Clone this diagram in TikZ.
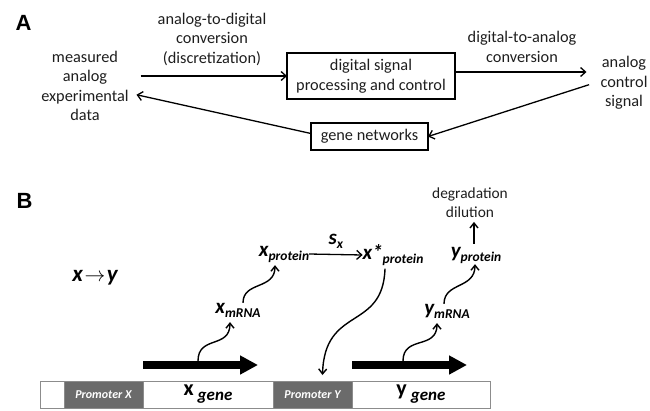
\documentclass[tikz,border=0pt]{standalone}
\usepackage{fontspec}
\setmainfont{Carlito}
\newfontfamily\panelfont{Liberation Sans}
\usepackage{tikz}
\usetikzlibrary{arrows.meta}
\usetikzlibrary{positioning}
\definecolor{promgray}{HTML}{6B6B6B}
\definecolor{edgegray}{HTML}{8C8C8C}
\definecolor{inkgray}{HTML}{1E1E1E}
% species name with subscript
\newcommand{\mol}[2]{{\fontsize{21}{21}\selectfont\bfseries\itshape #1}\raisebox{-4pt}{\fontsize{13.5}{13.5}\selectfont\bfseries\itshape #2}}
\newcommand{\genelab}[1]{{\fontsize{22}{22}\selectfont\bfseries #1}\hspace{4pt}\raisebox{-5pt}{\fontsize{17}{17}\selectfont\bfseries\itshape gene}}
\tikzset{
% Define standard arrow tip
>={Straight Barb[length=5pt, width=9pt]},
panel/.style={font=\panelfont\bfseries\fontsize{22}{22}\selectfont},
lbl/.style={align=center, text=inkgray, font=\fontsize{16.3}{19.5}\selectfont},
smalllbl/.style={align=center, text=inkgray, font=\fontsize{15.4}{19}\selectfont},
blockbox/.style={draw=black, line width=1.2pt, align=center, text=inkgray, font=\fontsize{16.3}{20}\selectfont},
flow/.style={-{Straight Barb[length=5pt, width=9pt]}, line width=1.3pt},
squig/.style={-{Straight Barb[length=5pt, width=8pt]}, line width=1.4pt},
seg/.style={draw=edgegray, line width=0.8pt, minimum height=27pt, anchor=west},
genseg/.style={seg, fill=white},
promseg/.style={seg, fill=promgray, text=white, font=\fontsize{12}{12}\selectfont\bfseries\itshape},
txarrow/.style={line width=8pt, -{Triangle[length=18pt, width=18pt]}}
}
\begin{document}
\begin{tikzpicture}[x=1pt, y=-1pt, inner sep=0, outer sep=0]
  \useasboundingbox (0,0) rectangle (650,410);

  % panel A
  \node[panel] (labA) at (23.5,22.5) {A};
  \node[lbl] (meas) at (85,86) {measured\\analog\\experimental\\data};
  \node[lbl] (adc) at (212,39) {analog-to-digital\\conversion\\(discretization)};
  \node[blockbox, minimum width=168pt, minimum height=46pt] (dsp) at (371,76) {digital signal\\processing and control};
  \node[lbl] (dac) at (522,47) {digital-to-analog\\conversion};
  \node[lbl] (acs) at (624,83) {analog\\control\\signal};
  \node[blockbox, minimum width=117pt, minimum height=27pt] (gn) at (369.5,136.5) {gene networks};

  \draw[flow, shorten <=12pt] (meas.east |- dsp.west) -- (dsp.west);
  \draw[flow, shorten >=14pt] ([yshift=4pt]dsp.east) -- ([yshift=4pt]dsp.east -| acs.west);
  \draw[flow, shorten <=12pt] ([yshift=2pt]acs.west) -- (gn.east);
  \draw[flow, shorten >=8pt] ([yshift=3pt]gn.west) -- ([yshift=-7pt]meas.east);

  % panel B
  \node[panel] (labB) at (24.5,200.5) {B};
  \node (xy) at (95,278) {{\fontsize{23}{23}\selectfont\bfseries\itshape x}\,{\fontsize{20}{20}\selectfont$\rightarrow$}\,{\fontsize{23}{23}\selectfont\bfseries\itshape y}};

  % DNA bar
  \node[genseg, minimum width=24pt] (lead) at (40,394.5) {};
  \node[promseg, minimum width=79pt, right=0pt of lead] (promX) {Promoter X};
  \node[genseg, minimum width=130pt, right=0pt of promX] (xgene) {\genelab{x}};
  \node[promseg, minimum width=79pt, right=0pt of xgene] (promY) {Promoter Y};
  \node[genseg, minimum width=138pt, right=0pt of promY] (ygene) {\genelab{y}};

  % transcription arrows
  \draw[txarrow] ([yshift=16pt]xgene.north west) -- ([xshift=115pt, yshift=16pt]xgene.north west);
  \draw[txarrow] ([yshift=16pt]ygene.north west) -- ([xshift=115pt, yshift=16pt]ygene.north west);
  \coordinate (xtss) at ([xshift=55pt, yshift=20pt]xgene.north west);
  \coordinate (ytss) at ([xshift=51pt, yshift=20pt]ygene.north west);

  % species
  \node (xm) at (238,310) {\mol{x}{mRNA}};
  \node (xp) at (284,254) {\mol{x}{protein}};
  \node (xs) at (393,255) {\mol{x*}{protein}};
  \node (ym) at (447,311) {\mol{y}{mRNA}};
  \node (yp) at (476,255) {\mol{y}{protein}};
  \node[smalllbl] (deg) at (470,203) {degradation\\dilution};

  \draw[squig] (xtss) .. controls +(0,-26) and +(0,27) .. ([xshift=-8pt, yshift=-5pt]xm.south);
  \draw[squig] ([xshift=5pt]xm.north) .. controls +(0,-22) and +(0,25) .. ([xshift=-9pt, yshift=-3pt]xp.south);
  \draw[flow] (xp.east) -- (xs.west) node[midway, above=6pt] {\mol{s}{x}};
  \draw[squig] ([xshift=-8pt, yshift=-3pt]xs.south) .. controls +(-2,63) and +(2,-70) .. ([xshift=10pt, yshift=6pt]promY.north);
  \draw[squig] (ytss) .. controls +(0,-26) and +(0,27) .. ([xshift=-10pt, yshift=-5pt]ym.south);
  \draw[squig] ([xshift=-3pt]ym.north) .. controls +(0,-22) and +(0,25) .. ([xshift=-1pt, yshift=-1pt]yp.south);
  \draw[squig, shorten <=3pt, shorten >=4pt] ([xshift=-2pt]yp.north) -- ([xshift=-2pt]yp.north |- deg.south);
\end{tikzpicture}
\end{document}
